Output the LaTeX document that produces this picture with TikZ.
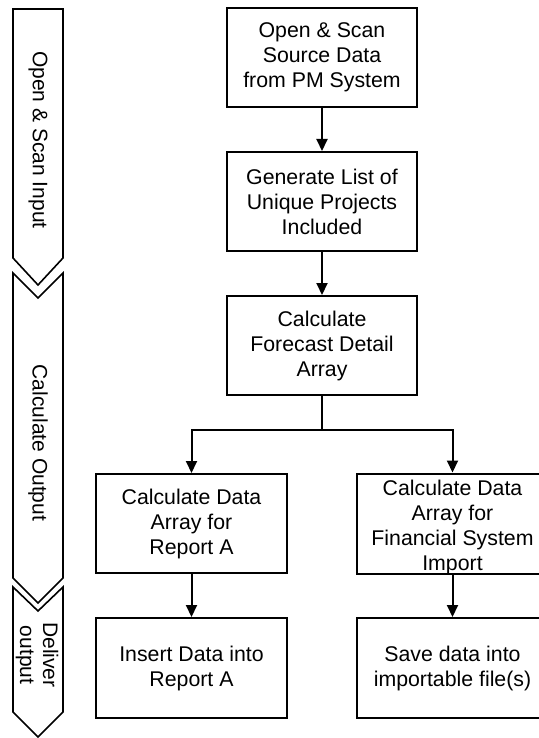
\documentclass[tikz,border=0pt]{standalone}
\usepackage{fontspec}
\setmainfont{Liberation Sans}
\usetikzlibrary{arrows.meta}
\begin{document}
\begin{tikzpicture}[x=1pt,y=-1pt,
  txt/.style={inner sep=0pt,align=center,font=\fontsize{21.3}{25}\selectfont},
  box/.style={draw,line width=2pt,minimum width=190pt,minimum height=99pt,txt},
  chev/.style={draw,line width=1.6pt,line join=miter},
  lab/.style={rotate=-90,align=center,font=\fontsize{21}{23}\selectfont,inner sep=0pt},
  arr/.style={line width=2pt,-{Triangle[length=12pt,width=11pt]}},
  ln/.style={line width=2pt}]
\useasboundingbox (0,0) rectangle (538,738);
% phase chevrons
\draw[chev] (13,9) -- (63,9) -- (63,258) -- (38,285) -- (13,258) -- cycle;
\draw[chev] (13,273) -- (38,298) -- (63,273) -- (63,578) -- (38,603) -- (13,578) -- cycle;
\draw[chev] (13,587) -- (38,611) -- (63,587) -- (63,712) -- (38,737) -- (13,712) -- cycle;
\node[lab] (p1) at (38,140) {Open \& Scan Input};
\node[lab] (p2) at (38,443) {Calculate Output};
\node[lab] (p3) at (37,655) {Deliver\\output};
% boxes
\node[box] (b1) at (322,57.5) {Open \& Scan\\Source Data\\from PM System};
\node[box] (b2) at (322,201.5) {Generate List of\\Unique Projects\\Included};
\node[box] (b3) at (322,345.5) {Calculate\\Forecast Detail\\Array};
\node[box,minimum width=191pt] (l1) at (191.5,523.5) {Calculate Data\\Array for\\Report A};
\node[box,minimum width=191pt,minimum height=100pt,
  label={[txt,yshift=-4pt]center:Calculate Data\\Array for\\Financial System\\Import}] (r1) at (452.5,523.5) {};
\node[box,minimum width=191pt,minimum height=100pt] (l2) at (191.5,668) {Insert Data into\\Report A};
\node[box,minimum width=191pt,minimum height=100pt] (r2) at (452.5,668) {Save data into\\importable file(s)};
\coordinate (br) at (322,430);
% connectors
\draw[arr] (b1) -- (b2);
\draw[arr] (b2) -- (b3);
\draw[ln] (b3.south) -- (br);
\draw[arr] (br) -| (l1.north);
\draw[arr] (br) -| (r1.north);
\draw[arr] (l1) -- (l2);
\draw[arr] (r1) -- (r2);
\end{tikzpicture}
\end{document}
